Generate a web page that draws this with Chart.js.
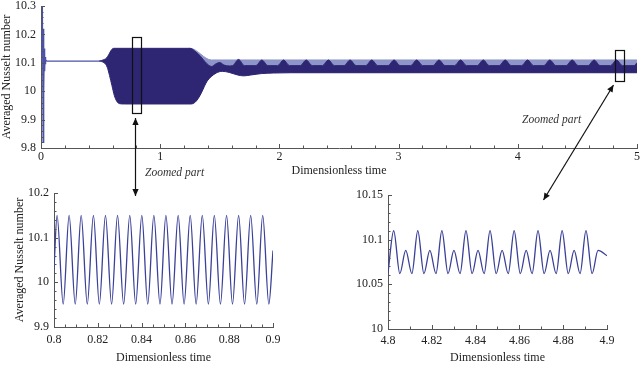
<!DOCTYPE html>
<html>
<head>
<meta charset="utf-8">
<script src="https://cdn.jsdelivr.net/npm/chart.js@4.4.1/dist/chart.umd.min.js"></script>
<style>
  html, body { margin: 0; padding: 0; background: #fff; }
  #wrap { position: relative; width: 640px; height: 365px; overflow: hidden; }
  #wrap canvas, #wrap svg { position: absolute; }
  .zp { position: absolute; font: italic 11.5px "Liberation Serif", serif; color: #333; white-space: nowrap; line-height: 1; }
</style>
</head>
<body>
<div id="wrap">
  <canvas id="full" width="643" height="180" style="left:0;top:0"></canvas>
  <canvas id="zoomA" width="320" height="183" style="left:0;top:182px"></canvas>
  <canvas id="zoomB" width="320" height="183" style="left:320px;top:182px"></canvas>
  <svg width="640" height="365" style="left:0;top:0">
    <defs>
      <marker id="ah" viewBox="0 0 10 10" refX="10" refY="5" markerUnits="userSpaceOnUse"
              markerWidth="8" markerHeight="7" orient="auto-start-reverse">
        <path d="M0,0.5 L10,5 L0,9.5 z" fill="#111"/>
      </marker>
    </defs>
    <line x1="135.5" y1="118" x2="135.5" y2="196" stroke="#111" stroke-width="1.2" marker-start="url(#ah)" marker-end="url(#ah)"/>
    <line x1="613.5" y1="85" x2="543.5" y2="200" stroke="#111" stroke-width="1.2" marker-start="url(#ah)" marker-end="url(#ah)"/>
  </svg>
  <div class="zp" style="left:145px;top:167px">Zoomed part</div>
  <div class="zp" style="left:522px;top:114px">Zoomed part</div>
</div>
<script>
// ---- whole run, t = 0 .. 5 ----
// start-up spike and the steady line before the onset of oscillation
const spikeT  = [0, 0.012, 0.017, 0.021, 0.025, 0.028, 0.031, 0.034, 0.037, 0.041, 0.05, 0.5];
const spikeNu = [10.1, 10.3, 9.82, 10.22, 10.0, 10.15, 10.07, 10.12, 10.095, 10.11, 10.106, 10.106];

// upper edge of the dense (dark) band
const darkTopT = [0.49, 0.52, 0.55, 0.57, 0.59, 0.61, 1.25, 1.3, 1.34, 1.376, 1.43, 1.47, 1.5, 1.535, 1.58,
  1.607, 1.657, 1.707, 1.803, 1.853, 1.903, 1.985, 2.035, 2.085, 2.175, 2.225, 2.275,
  2.361, 2.411, 2.461, 2.543, 2.593, 2.643, 2.725, 2.775, 2.825, 2.912, 2.962, 3.012,
  3.102, 3.152, 3.202, 3.289, 3.339, 3.389, 3.47, 3.52, 3.57, 3.66, 3.71, 3.76,
  3.844, 3.894, 3.944, 4.032, 4.082, 4.132, 4.219, 4.269, 4.319, 4.406, 4.456, 4.506,
  4.59, 4.64, 4.69, 4.778, 4.828, 4.878, 4.975, 5.0];
const darkTopNu = [10.106, 10.11, 10.117, 10.13, 10.145, 10.151, 10.151, 10.138, 10.122, 10.104, 10.087, 10.097, 10.101, 10.092, 10.089,
  10.09, 10.112, 10.09, 10.09, 10.11, 10.09, 10.09, 10.11, 10.09, 10.09, 10.11, 10.09,
  10.09, 10.11, 10.09, 10.09, 10.11, 10.09, 10.09, 10.11, 10.09, 10.09, 10.11, 10.09,
  10.09, 10.11, 10.09, 10.09, 10.11, 10.09, 10.09, 10.11, 10.09, 10.09, 10.11, 10.09,
  10.09, 10.11, 10.09, 10.09, 10.11, 10.09, 10.09, 10.11, 10.09, 10.09, 10.11, 10.09,
  10.09, 10.11, 10.09, 10.09, 10.11, 10.09, 10.09, 10.1];

// lower edge of the band
const darkLowT  = [0.49, 0.53, 0.555, 0.575, 0.595, 0.615, 0.635, 0.66, 0.7, 1.26, 1.29, 1.32, 1.35, 1.39, 1.43,
  1.47, 1.52, 1.58, 1.65, 1.7, 1.76, 1.85, 1.95, 2.1, 5.0];
const darkLowNu = [10.106, 10.1, 10.085, 10.055, 10.02, 9.985, 9.965, 9.956, 9.955, 9.955, 9.96, 9.975, 9.998, 10.033, 10.052,
  10.064, 10.07, 10.066, 10.057, 10.054, 10.057, 10.062, 10.064, 10.065, 10.065];

// upper edge of the paler band (higher peaks only)
const paleTopT  = [1.24, 1.25, 1.43, 5.0];
const paleTopNu = [10.151, 10.151, 10.11, 10.11];

// ---- zoom 0.8 .. 0.9 ----
const zoomAT = [0.8, 0.8014, 0.8042, 0.8069, 0.8097, 0.8124, 0.8152, 0.818, 0.8207, 0.8235, 0.8263, 0.829, 0.8318,
  0.8346, 0.8373, 0.8401, 0.8428, 0.8456, 0.8484, 0.8511, 0.8539, 0.8567, 0.8594, 0.8622, 0.8649, 0.8677,
  0.8705, 0.8732, 0.876, 0.8788, 0.8815, 0.8843, 0.887, 0.8898, 0.8926, 0.8953, 0.8981, 0.9];
const zoomANu = [10.03, 10.15, 9.951, 10.15, 9.951, 10.15, 9.951, 10.15, 9.951, 10.15, 9.951, 10.15, 9.951,
  10.15, 9.951, 10.15, 9.951, 10.15, 9.951, 10.15, 9.951, 10.15, 9.951, 10.15, 9.951, 10.15,
  9.951, 10.15, 9.951, 10.15, 9.951, 10.15, 9.951, 10.15, 9.951, 10.15, 9.951, 10.071];

// ---- zoom 4.8 .. 4.9 ----
const zoomBT = [4.8, 4.8026, 4.8054, 4.8081, 4.8109, 4.8136, 4.8164, 4.8191, 4.8219, 4.8246, 4.8274, 4.8301,
  4.8329, 4.8356, 4.8384, 4.8411, 4.8439, 4.8466, 4.8494, 4.8521, 4.8549, 4.8576, 4.8604, 4.8631,
  4.8658, 4.8685, 4.8713, 4.874, 4.8768, 4.8795, 4.8823, 4.885, 4.8877, 4.8904, 4.8932, 4.8959, 4.9];
const zoomBNu = [10.063, 10.11, 10.062, 10.088, 10.062, 10.11, 10.062, 10.088, 10.062, 10.11, 10.062, 10.088,
  10.062, 10.11, 10.062, 10.088, 10.062, 10.11, 10.062, 10.088, 10.062, 10.11, 10.062, 10.088,
  10.062, 10.11, 10.062, 10.088, 10.062, 10.11, 10.062, 10.088, 10.062, 10.11, 10.062, 10.088, 10.082];

// tick labels
const fullXTicks = [0, 1, 2, 3, 4, 5];
const fullYTicks = [9.8, 9.9, 10, 10.1, 10.2, 10.3];
const zoomAXTicks = [0.8, 0.82, 0.84, 0.86, 0.88, 0.9];
const zoomAYTicks = [9.9, 10, 10.1, 10.2];
const zoomBXTicks = [4.8, 4.82, 4.84, 4.86, 4.88, 4.9];
const zoomBYTicks = [10, 10.05, 10.1, 10.15];

// boxes marking the zoomed windows on the full plot: [t0, t1, nu0, nu1]
const zoomBoxes = [[0.763, 0.838, 9.921, 10.19], [4.814, 4.889, 10.035, 10.145]];

const DARK = '#2e2673';
const PALE = '#8e95c8';
const LINE = '#3b4098';
const AXIS = '#555';

Chart.defaults.font.family = '"Liberation Serif", "Times New Roman", serif';
Chart.defaults.color = '#222';

const pts = (t, v) => t.map((x, i) => ({ x: x, y: v[i] }));
const fmt = v => String(+Number(v).toFixed(3));

// tick marks drawn inward from the axis lines
const innerTicks = {
  id: 'innerTicks',
  afterDatasetsDraw(chart, args, opts) {
    const { x, y } = chart.scales;
    const ctx = chart.ctx;
    ctx.save();
    ctx.strokeStyle = AXIS;
    ctx.lineWidth = 1;
    ctx.beginPath();
    const n = Math.round((x.max - x.min) / opts.xMinor);
    for (let i = 0; i <= n; i++) {
      const v = x.min + i * opts.xMinor;
      const major = x.ticks.some(t => Math.abs(t.value - v) < opts.xMinor / 10);
      const px = Math.round(x.getPixelForValue(v)) + 0.5;
      ctx.moveTo(px, y.bottom);
      ctx.lineTo(px, y.bottom - (major ? 4 : 2.5));
    }
    const m = Math.round((y.max - y.min) / opts.yMinor);
    for (let i = 0; i <= m; i++) {
      const v = y.min + i * opts.yMinor;
      const major = y.ticks.some(t => Math.abs(t.value - v) < opts.yMinor / 10);
      const py = Math.round(y.getPixelForValue(v)) + 0.5;
      ctx.moveTo(x.left, py);
      ctx.lineTo(x.left + (major ? 4 : 2.5), py);
    }
    ctx.stroke();
    ctx.restore();
  }
};

const boxPlugin = {
  id: 'boxes',
  afterDraw(chart, args, opts) {
    if (!opts.list) return;
    const { x, y } = chart.scales;
    const ctx = chart.ctx;
    ctx.save();
    ctx.strokeStyle = '#111';
    ctx.lineWidth = 1.2;
    opts.list.forEach(b => {
      const x0 = x.getPixelForValue(b[0]), x1 = x.getPixelForValue(b[1]);
      const y0 = y.getPixelForValue(b[3]), y1 = y.getPixelForValue(b[2]);
      ctx.strokeRect(Math.round(x0) + 0.5, Math.round(y0) + 0.5, Math.round(x1 - x0), Math.round(y1 - y0));
    });
    ctx.restore();
  }
};

function axis(o) {
  return {
    type: 'linear',
    min: o.min,
    max: o.max,
    grid: { display: false, drawTicks: false },
    border: { display: true, color: AXIS, width: 1 },
    ticks: {
      autoSkip: false, maxRotation: 0, padding: o.pad,
      font: { size: 12, lineHeight: o.lh || 1 },
      callback: fmt
    },
    afterBuildTicks: s => { s.ticks = o.ticks.map(v => ({ value: v })); },
    afterFit: o.fit,
    title: o.title ? { display: true, text: o.title, font: { size: 12 }, padding: o.titlePad } : { display: false }
  };
}

function makeChart(id, datasets, o) {
  return new Chart(document.getElementById(id), {
    type: 'line',
    data: { datasets: datasets },
    options: {
      responsive: false,
      animation: false,
      events: [],
      layout: { padding: o.padding },
      elements: { point: { radius: 0 }, line: { cubicInterpolationMode: 'monotone' } },
      plugins: {
        legend: { display: false },
        tooltip: { enabled: false },
        innerTicks: { xMinor: o.xMinor, yMinor: o.yMinor },
        boxes: { list: o.boxes }
      },
      scales: {
        x: axis(Object.assign({ fit: s => { s.height = o.xh; } }, o.x)),
        y: axis(Object.assign({ fit: s => { s.width = o.yw; }, lh: 0.1 }, o.y))
      }
    },
    plugins: [innerTicks, boxPlugin]
  });
}

makeChart('full', [
  { data: pts(spikeT, spikeNu), borderColor: '#4b52a8', borderWidth: 1.2, fill: false, order: 0,
    cubicInterpolationMode: 'default', tension: 0 },
  { data: pts(darkTopT, darkTopNu), borderColor: DARK, backgroundColor: DARK, borderWidth: 1, fill: 2, order: 1 },
  { data: pts(darkLowT, darkLowNu), borderColor: DARK, borderWidth: 1, fill: false, order: 1 },
  { data: pts(paleTopT, paleTopNu), borderColor: PALE, backgroundColor: PALE, borderWidth: 1, fill: 2, order: 2 }
], {
  padding: { left: 0, right: 0, top: 6, bottom: 0 },
  xh: 32, yw: 41, xMinor: 0.2, yMinor: 0.02, boxes: zoomBoxes,
  x: { min: 0, max: 5, ticks: fullXTicks, pad: 3, title: 'Dimensionless time', titlePad: { top: 0, bottom: 2 } },
  y: { min: 9.8, max: 10.3, ticks: fullYTicks, pad: 5, title: 'Averaged Nusselt number', titlePad: { top: 0, bottom: 0 } }
});

makeChart('zoomA', [
  { data: pts(zoomAT, zoomANu), borderColor: LINE, borderWidth: 1.3, fill: false }
], {
  padding: { left: 0, right: 47, top: 11, bottom: 0 },
  xh: 38, yw: 54, xMinor: 0.005, yMinor: 0.02,
  x: { min: 0.8, max: 0.9, ticks: zoomAXTicks, pad: 7, title: 'Dimensionless time', titlePad: { top: 0, bottom: 0 } },
  y: { min: 9.9, max: 10.2, ticks: zoomAYTicks, pad: 5, title: 'Averaged Nusselt number', titlePad: { top: 13, bottom: 0 } }
});

makeChart('zoomB', [
  { data: pts(zoomBT, zoomBNu), borderColor: LINE, borderWidth: 1.3, fill: false }
], {
  padding: { left: 0, right: 33, top: 13, bottom: 0 },
  xh: 36, yw: 68, xMinor: 0.01, yMinor: 0.01,
  x: { min: 4.8, max: 4.9, ticks: zoomBXTicks, pad: 6, title: 'Dimensionless time', titlePad: { top: 0, bottom: 0 } },
  y: { min: 10, max: 10.15, ticks: zoomBYTicks, pad: 5 }
});
</script>
</body>
</html>
